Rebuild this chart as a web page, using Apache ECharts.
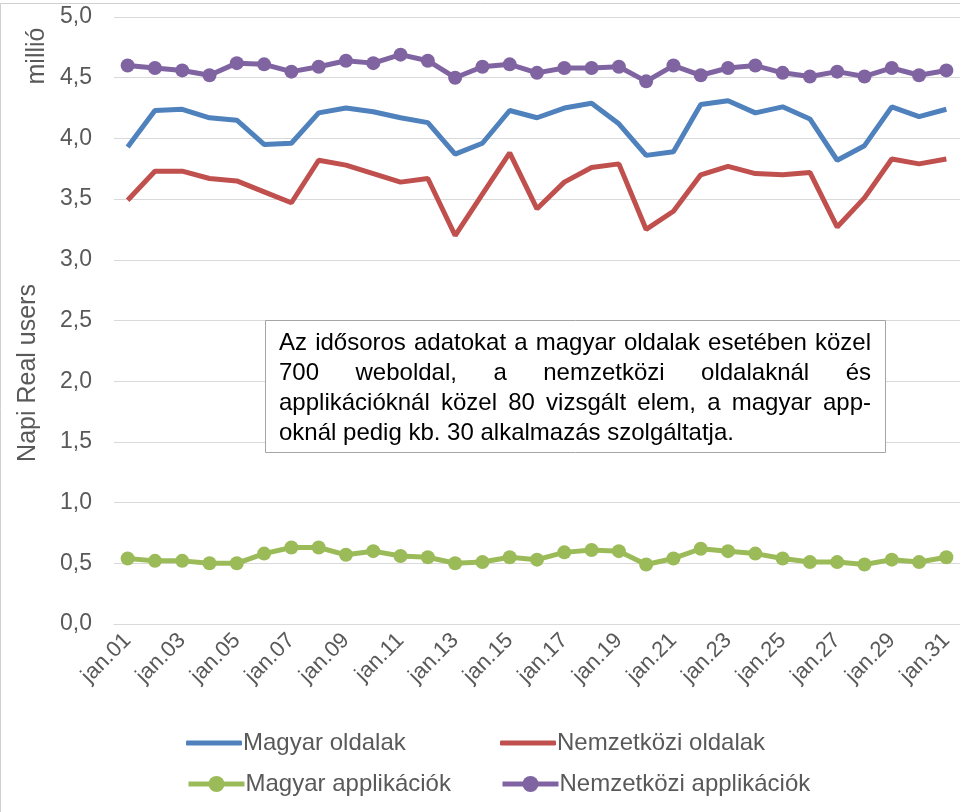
<!DOCTYPE html>
<html>
<head>
<meta charset="utf-8">
<script src="https://cdn.jsdelivr.net/npm/echarts@6/dist/echarts.min.js"></script>
<style>
  html, body { margin: 0; padding: 0; background: #fff; }
  #main { width: 960px; height: 812px; }
</style>
</head>
<body>
<div id="main"></div>
<script>
// napok
var days = [];
for (var d = 1; d <= 31; d++) {
    days.push('jan.' + (d < 10 ? '0' + d : d));
}

// millió napi real user
var magyarOldalak = [3.93, 4.23, 4.24, 4.17, 4.15, 3.95, 3.96, 4.21, 4.25, 4.22, 4.17, 4.13, 3.87, 3.96, 4.23,
    4.17, 4.25, 4.29, 4.12, 3.86, 3.89, 4.28, 4.31, 4.21, 4.26, 4.16, 3.82, 3.94, 4.26, 4.18, 4.24];
var nemzetkoziOldalak = [3.49, 3.73, 3.73, 3.67, 3.65, 3.56, 3.47, 3.82, 3.78, 3.71, 3.64, 3.67, 3.20, 3.54, 3.88,
    3.42, 3.64, 3.76, 3.79, 3.25, 3.40, 3.70, 3.77, 3.71, 3.70, 3.72, 3.27, 3.51, 3.83, 3.79, 3.83];
var magyarApp = [0.54, 0.52, 0.52, 0.50, 0.50, 0.58, 0.63, 0.63, 0.57, 0.60, 0.56, 0.55, 0.50, 0.51, 0.55,
    0.53, 0.59, 0.61, 0.60, 0.49, 0.54, 0.62, 0.60, 0.58, 0.54, 0.51, 0.51, 0.49, 0.53, 0.51, 0.55];
var nemzetkoziApp = [4.60, 4.58, 4.56, 4.52, 4.62, 4.61, 4.55, 4.59, 4.64, 4.62, 4.69, 4.64, 4.50, 4.59, 4.61,
    4.54, 4.58, 4.58, 4.59, 4.47, 4.60, 4.52, 4.58, 4.60, 4.54, 4.51, 4.55, 4.51, 4.58, 4.52, 4.56];

var seriesNames = ['Magyar oldalak', 'Nemzetközi oldalak', 'Magyar applikációk', 'Nemzetközi applikációk'];
var colors = ['#4F81BD', '#C0504D', '#9BBB59', '#8064A2'];

var noteLines = [
    'Az idősoros adatokat a magyar oldalak esetében közel',
    '700 weboldal, a nemzetközi oldalaknál és',
    'applikációknál közel 80 vizsgált elem, a magyar app-',
    'oknál pedig kb. 30 alkalmazás szolgáltatja.'
];

var FONT = '"Liberation Sans", Arial, sans-serif';
var grey = '#595959';

// sorkizárt szöveg: szavankénti elhelyezés
var measureCtx = document.createElement('canvas').getContext('2d');
measureCtx.font = '24px ' + FONT;
function noteGraphics(x0, width, y0, lh) {
    var out = [];
    noteLines.forEach(function (line, i) {
        var y = y0 + i * lh;
        var words = line.split(' ');
        var total = 0;
        words.forEach(function (w) { total += measureCtx.measureText(w).width; });
        var gap = (i === noteLines.length - 1) ? measureCtx.measureText(' ').width
            : (width - total) / (words.length - 1);
        var x = x0;
        words.forEach(function (w) {
            out.push({ type: 'text', x: x, y: y, z: 20,
                style: { text: w, font: '24px ' + FONT, fill: '#000', textVerticalAlign: 'middle' } });
            x += measureCtx.measureText(w).width + gap;
        });
    });
    return out;
}

var myChart = echarts.init(document.getElementById('main'));

var series = [
    { data: magyarOldalak, symbol: 'none' },
    { data: nemzetkoziOldalak, symbol: 'none' },
    { data: magyarApp, symbol: 'circle' },
    { data: nemzetkoziApp, symbol: 'circle' }
].map(function (s, i) {
    return {
        name: seriesNames[i],
        type: 'line',
        data: s.data,
        symbol: s.symbol,
        symbolSize: 14,
        showSymbol: s.symbol !== 'none',
        color: colors[i],
        lineStyle: { width: 5, color: colors[i] },
        itemStyle: { color: colors[i] },
        z: 2 + (i === 0 ? 1 : 0)
    };
});

var legendPos = [[181, 726], [495, 726], [181, 768], [495, 768]];
var legends = seriesNames.map(function (n, i) {
    var plain = i < 2;
    return {
        data: [plain ? { name: n, icon: 'roundRect' } : { name: n }],
        left: legendPos[i][0],
        top: legendPos[i][1] - (plain ? 0 : 1),
        itemWidth: 56,
        itemHeight: plain ? 5 : 20,
        itemGap: 0,
        lineStyle: { width: 5 },
        textStyle: { fontSize: 24, color: grey, fontFamily: FONT, padding: [0, 0, 0, -4] }
    };
});

var option = {
    animation: false,
    backgroundColor: '#fff',
    grid: { left: 114, top: 17, width: 848, height: 607, containLabel: false },
    legend: legends,
    xAxis: {
        type: 'category',
        data: days,
        boundaryGap: true,
        axisLine: { show: true, lineStyle: { color: '#D9D9D9', width: 1 } },
        axisTick: { show: false },
        axisLabel: {
            interval: 1,
            rotate: 45,
            margin: 13,
            fontSize: 22,
            color: grey,
            fontFamily: FONT
        }
    },
    yAxis: {
        type: 'value',
        min: 0,
        max: 5,
        interval: 0.5,
        axisLine: { show: false },
        axisTick: { show: false },
        splitLine: { lineStyle: { color: '#D9D9D9', width: 1 } },
        axisLabel: {
            margin: 22,
            fontSize: 23,
            color: grey,
            fontFamily: FONT,
            formatter: function (v) { return v.toFixed(1).replace('.', ','); }
        }
    },
    graphic: [
        { type: 'rect', shape: { x: 0.5, y: 3.5, width: 1000, height: 900 }, silent: true, z: -1,
            style: { fill: 'none', stroke: '#D0D0D0', lineWidth: 1 } },
        { type: 'text', x: 28, y: 373, rotation: Math.PI / 2, z: 10,
            style: { text: 'Napi Real users', font: '25px ' + FONT, fill: grey,
                textAlign: 'center', textVerticalAlign: 'middle' } },
        { type: 'text', x: 37, y: 56, rotation: Math.PI / 2, z: 10,
            style: { text: 'millió', font: '25px ' + FONT, fill: grey,
                textAlign: 'center', textVerticalAlign: 'middle' } },
        { type: 'rect', shape: { x: 265.5, y: 320.5, width: 620, height: 132 }, z: 15,
            style: { fill: '#fff', stroke: '#A6A6A6', lineWidth: 1 } }
    ].concat(noteGraphics(279, 592, 343, 30)),
    series: series
};

myChart.setOption(option);
</script>
</body>
</html>
